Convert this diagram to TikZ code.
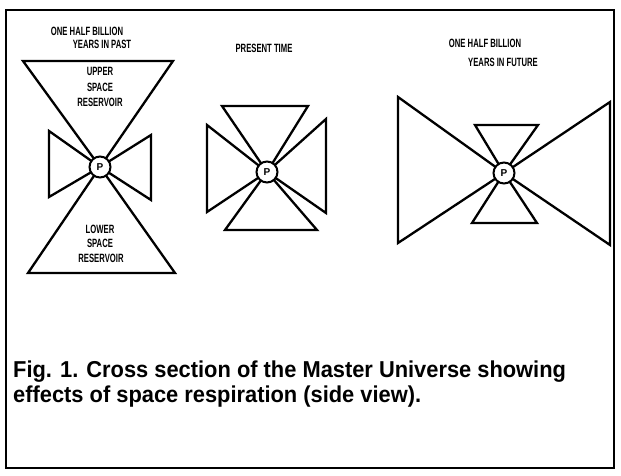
\documentclass[tikz,border=0pt]{standalone}
\usepackage{fontspec}
\setmainfont{Liberation Sans}
\begin{document}
\begin{tikzpicture}[x=1pt,y=-1pt,
  tri/.style={draw=black,line width=2.3pt,line join=miter},
  pc/.style={circle,draw=black,fill=white,line width=2pt,minimum size=21pt,inner sep=0pt,font=\bfseries\fontsize{10}{10}\selectfont},
  lbl/.style={font=\bfseries\fontsize{12}{12}\selectfont,xscale=0.64,inner sep=0pt},
  captext/.style={font=\bfseries\fontsize{23}{23}\selectfont,xscale=0.95,inner sep=0pt,anchor=base west}]
\useasboundingbox (0,0) rectangle (621,476);
\draw[line width=2.6pt] (6,10) rectangle (614,468);
% left diagram
\coordinate (P1) at (100,167);
\draw[tri] (23,61) -- (P1) -- (173,61) -- cycle;
\draw[tri] (28,273) -- (P1) -- (175,273) -- cycle;
\draw[tri] (49,131) -- (P1) -- (49,197) -- cycle;
\draw[tri] (151,135) -- (P1) -- (151,200) -- cycle;
\node[pc] (p1) at (P1) {P};
\node[lbl] (t1a) at (87,31) {ONE HALF BILLION};
\node[lbl] (t1b) at (102,44) {YEARS IN PAST};
\node[lbl] (u1) at (100,71) {UPPER};
\node[lbl] (u2) at (100,87) {SPACE};
\node[lbl] (u3) at (100,102) {RESERVOIR};
\node[lbl] (l1) at (100,229) {LOWER};
\node[lbl] (l2) at (100,243) {SPACE};
\node[lbl] (l3) at (101,258) {RESERVOIR};
% middle diagram
\coordinate (P2) at (267,172);
\draw[tri] (222,106) -- (P2) -- (308,106) -- cycle;
\draw[tri] (225,230) -- (P2) -- (317,230) -- cycle;
\draw[tri] (207,125) -- (P2) -- (207,212) -- cycle;
\draw[tri] (326,119) -- (P2) -- (326,213) -- cycle;
\node[pc] (p2) at (P2) {P};
\node[lbl] (t2) at (264,48) {PRESENT TIME};
% right diagram
\coordinate (P3) at (504,173);
\draw[tri] (475,125) -- (P3) -- (538,125) -- cycle;
\draw[tri] (472,223) -- (P3) -- (537,223) -- cycle;
\draw[tri] (398,97) -- (P3) -- (398,243) -- cycle;
\draw[tri] (610,102) -- (P3) -- (610,245) -- cycle;
\node[pc] (p3) at (P3) {P};
\node[lbl] (t3a) at (485,43) {ONE HALF BILLION};
\node[lbl] (t3b) at (503,62) {YEARS IN FUTURE};
% caption
\node[captext] (c1) at (13,377) {Fig. 1. Cross section of the Master Universe showing};
\node[captext] (c2) at (13,402) {effects of space respiration (side view).};
\end{tikzpicture}
\end{document}
